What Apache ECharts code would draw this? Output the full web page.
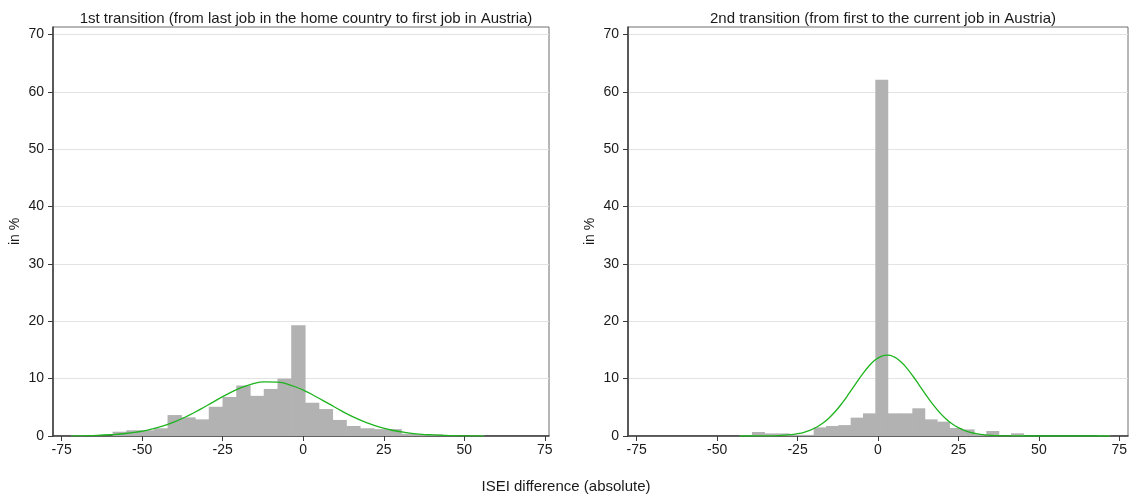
<!DOCTYPE html>
<html>
<head>
<meta charset="utf-8">
<script src="https://cdn.jsdelivr.net/npm/echarts@6/dist/echarts.min.js"></script>
<style>html,body{margin:0;padding:0;background:#fff;}#c{width:1132px;height:495px;}</style>
</head>
<body>
<div id="c"></div>
<script>
// ---- data ----
const titleLeft = '1st transition (from last job in the home country to first job in Austria)';
const titleRight = '2nd transition (from first to the current job in Austria)';
const xAxisTitle = 'ISEI difference (absolute)';
const yAxisTitle = 'in %';
const xTickValues = [-75, -50, -25, 0, 25, 50, 75];
const yTickValues = [0, 10, 20, 30, 40, 50, 60, 70];

// histogram 1: 30 bins from -72 to 56
const leftBinStart = -72;
const leftBinEnd = 56;
const leftHeights = [0.1, 0, 0, 0.75, 1.0, 1.0, 1.35, 3.65, 3.25, 2.9, 5.1, 6.8, 8.8, 7.0, 8.2, 10.0, 19.3, 5.8, 4.7, 2.8, 1.75, 1.35, 1.2, 1.2, 0.4, 0.3, 0.3, 0, 0, 0.1];
// fitted normal curve 1
const leftCurveX = [-72, -68, -64, -60, -56, -52, -48, -44, -40, -36, -32, -28, -24, -20, -16, -12, -8, -4, 0, 4, 8, 12, 16, 20, 24, 28, 32, 36, 40, 44, 48, 52, 56];
const leftCurveY = [0.03, 0.06, 0.11, 0.22, 0.39, 0.66, 1.08, 1.68, 2.48, 3.47, 4.65, 5.91, 7.16, 8.25, 9.05, 9.45, 9.39, 8.88, 8.0, 6.85, 5.59, 4.34, 3.21, 2.26, 1.51, 0.96, 0.58, 0.34, 0.19, 0.1, 0.05, 0.02, 0.01];

// histogram 2: 30 bins from -43 to 72
const rightBinStart = -43;
const rightBinEnd = 72;
const rightHeights = [0.1, 0.7, 0.45, 0.45, 0.2, 0.2, 1.5, 1.75, 1.9, 3.2, 3.95, 62.1, 3.95, 3.95, 4.83, 2.9, 2.5, 1.4, 1.15, 0.3, 0.87, 0, 0.47, 0, 0, 0, 0, 0, 0, 0.1];
const rightCurveX = [-43, -39, -35, -31, -27, -25, -23, -21, -19, -17, -15, -13, -11, -9, -7, -5, -3, -1, 1, 3, 5, 7, 9, 11, 13, 15, 17, 19, 21, 23, 25, 27, 29, 31, 33, 35, 37, 41, 45, 50, 56, 64, 72];
const rightCurveY = [0.001, 0.004, 0.02, 0.07, 0.23, 0.40, 0.65, 1.03, 1.57, 2.30, 3.26, 4.45, 5.85, 7.41, 9.04, 10.64, 12.07, 13.19, 13.89, 14.10, 13.79, 12.99, 11.80, 10.33, 8.71, 7.09, 5.55, 4.19, 3.05, 2.14, 1.45, 0.94, 0.59, 0.36, 0.21, 0.12, 0.06, 0.02, 0.004, 0, 0, 0, 0];

// ---- build ----
function bins(start, end, heights) {
  const w = (end - start) / heights.length;
  return heights.map((h, i) => [start + i * w, start + (i + 1) * w, h]);
}
function zip(xs, ys) { return xs.map((x, i) => [x, ys[i]]); }

const FONT = 'Liberation Sans, Arial, sans-serif';
const barColor = '#b2b2b2';
const lineColor = '#1db41d';
const textColor = '#1a1a1a';

function renderBar(params, api) {
  const h = api.value(2);
  if (!(h > 0)) return null;
  const p0 = api.coord([api.value(0), h]);
  const p1 = api.coord([api.value(1), 0]);
  return {
    type: 'rect',
    shape: { x: p0[0], y: p0[1], width: p1[0] - p0[0] + 0.6, height: p1[1] - p0[1] },
    style: { fill: barColor }
  };
}

function xAxis(idx, min, max) {
  return {
    type: 'value', gridIndex: idx, min: min, max: max,
    axisLine: { show: true, onZero: false, lineStyle: { color: '#3a3a3a', width: 1.5 } },
    axisTick: { show: true, length: 5, customValues: xTickValues, lineStyle: { color: '#3a3a3a', width: 1 } },
    axisLabel: { customValues: xTickValues, color: textColor, fontSize: 14, fontFamily: FONT, margin: 7 },
    splitLine: { show: false }
  };
}
function yAxis(idx) {
  return {
    type: 'value', gridIndex: idx, min: 0, max: 71.3, interval: 10,
    name: yAxisTitle, nameLocation: 'middle', nameGap: 31,
    nameTextStyle: { color: textColor, fontSize: 14, fontFamily: FONT },
    axisLine: { show: true, onZero: false, lineStyle: { color: '#3a3a3a', width: 1.5 } },
    axisTick: { show: true, length: 5, customValues: yTickValues, lineStyle: { color: '#3a3a3a', width: 1 } },
    axisLabel: { customValues: yTickValues, color: textColor, fontSize: 14, fontFamily: FONT, margin: 9 },
    splitLine: { show: true, lineStyle: { color: '#e3e3e3', width: 1 } }
  };
}

const chart = echarts.init(document.getElementById('c'));
chart.setOption({
  animation: false,
  backgroundColor: '#ffffff',
  title: [
    { text: titleLeft, left: 301, top: 6, textAlign: 'center', textStyle: { fontSize: 15, fontWeight: 'normal', color: textColor, fontFamily: FONT } },
    { text: titleRight, left: 878, top: 6, textAlign: 'center', textStyle: { fontSize: 15, fontWeight: 'normal', color: textColor, fontFamily: FONT } },
    { text: xAxisTitle, left: 561, top: 474, textAlign: 'center', textStyle: { fontSize: 15, fontWeight: 'normal', color: textColor, fontFamily: FONT } }
  ],
  grid: [
    { left: 53, top: 27, width: 496, height: 409, show: true, borderColor: '#6e6e6e', borderWidth: 1, containLabel: false },
    { left: 628, top: 27, width: 500, height: 409, show: true, borderColor: '#6e6e6e', borderWidth: 1, containLabel: false }
  ],
  xAxis: [xAxis(0, -77.7, 76.3), xAxis(1, -77.7, 77.7)],
  yAxis: [yAxis(0), yAxis(1)],
  series: [
    { type: 'custom', xAxisIndex: 0, yAxisIndex: 0, renderItem: renderBar, data: bins(leftBinStart, leftBinEnd, leftHeights), encode: { x: [0, 1], y: 2 } },
    { type: 'line', xAxisIndex: 0, yAxisIndex: 0, data: zip(leftCurveX, leftCurveY), smooth: true, showSymbol: false, lineStyle: { color: lineColor, width: 1.3 } },
    { type: 'custom', xAxisIndex: 1, yAxisIndex: 1, renderItem: renderBar, data: bins(rightBinStart, rightBinEnd, rightHeights), encode: { x: [0, 1], y: 2 } },
    { type: 'line', xAxisIndex: 1, yAxisIndex: 1, data: zip(rightCurveX, rightCurveY), smooth: true, showSymbol: false, lineStyle: { color: lineColor, width: 1.3 } }
  ]
});
</script>
</body>
</html>
